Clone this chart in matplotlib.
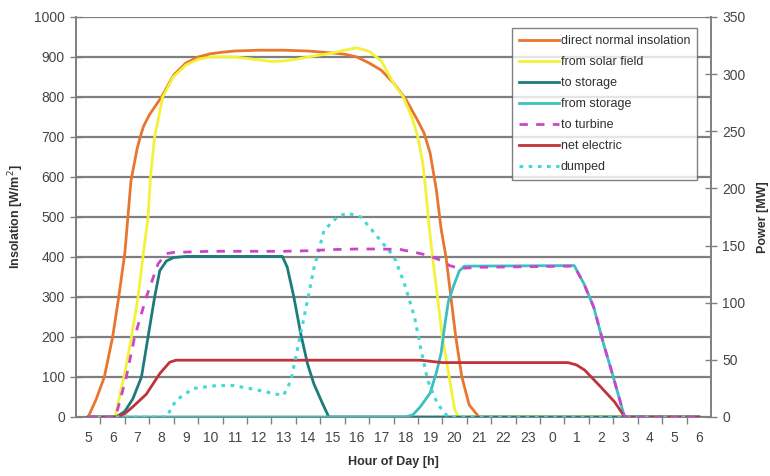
import matplotlib
matplotlib.use("Agg")
import matplotlib.pyplot as plt
from matplotlib.ticker import FixedLocator, FuncFormatter

# ---------------- data ----------------
hour_ticks = list(range(5, 31))
hour_labels = [str(h % 24) for h in hour_ticks]

# direct normal insolation [W/m2]
dni_h = [5, 5.33, 5.66, 6, 6.25, 6.5, 6.75, 7, 7.13, 7.26, 7.5, 8, 8.5, 9, 9.5, 10, 10.5, 11, 12, 13, 14,
         15, 15.5, 16, 16.5, 17, 17.5, 18, 18.5, 18.75, 19, 19.25, 19.45, 19.65, 19.85, 20.05, 20.3, 20.6, 21, 30]
dni_v = [0, 45, 100, 200, 300, 410, 590, 670, 700, 726, 755, 800, 855, 885, 900, 908, 912, 915, 917, 917, 915,
         910, 907, 900, 885, 867, 835, 795, 740, 710, 660, 570, 470, 400, 300, 200, 100, 30, 0, 0]

# from solar field [MW]
field_h = [5, 6.1, 6.5, 6.77, 7.04, 7.24, 7.45, 7.55, 7.72, 8.05, 8.48, 9, 9.5, 10, 11, 12, 12.5, 13, 13.5, 14,
           15, 15.5, 16, 16.5, 17, 17.5, 17.9, 18.25, 18.5, 18.7, 18.85, 18.95, 19.1, 19.3, 19.5, 19.78, 20.0, 20.15, 30]
field_v = [0, 0, 38.5, 70, 105, 140, 175, 210, 245, 280, 297.5, 308, 313, 315, 315, 312.5, 311, 311.5, 313, 315,
           318.5, 321, 323, 320, 311.5, 292, 280, 262.5, 245, 222, 192.5, 168, 140, 105, 70, 35, 7, 0, 0]

# to storage [MW]
to_st_h = [5, 6.15, 6.5, 6.83, 7.18, 7.45, 7.72, 7.93, 8.2, 8.5, 9, 12.95, 13.15, 13.42, 13.7, 13.98, 14.24,
           14.6, 14.85, 30]
to_st_v = [0, 0, 5, 16, 35, 70, 105, 128, 136.5, 139.5, 140.5, 140.5, 131, 105, 73, 46.5, 29, 11.5, 0, 0]

# from storage [MW]
from_st_h = [5, 18.0, 18.3, 18.6, 19.0, 19.25, 19.45, 19.6, 19.75, 20.0, 20.2, 20.4, 24.9, 25.3, 25.7, 26.1,
             26.5, 26.96, 30]
from_st_v = [0, 0, 2, 9, 21, 38.5, 56, 80.5, 101.5, 117, 128, 132, 132.5, 116.5, 96, 64, 35, 0, 0]

# to turbine [MW]
turb_h = [5, 6.12, 6.56, 6.9, 7.38, 7.86, 8.2, 8.5, 10, 13, 14, 15, 16, 17, 17.8, 18.5, 18.9, 19.45, 19.8,
          20.2, 21, 24.9, 25.3, 25.7, 26.1, 26.5, 26.96, 30]
turb_v = [0, 0, 35, 70, 105, 134, 143, 144, 145, 145, 145.5, 146.5, 147, 147, 146.5, 143.5, 141.5, 137, 132.5,
          130, 131, 132, 116.5, 96, 64, 35, 0, 0]

# net electric [MW]
net_h = [5, 6.15, 6.5, 6.83, 7.38, 7.93, 8.34, 8.6, 18.6, 19.5, 24.65, 25.0, 25.33, 26.0, 26.56, 26.97, 30]
net_v = [0, 0, 3, 9, 20, 38, 48, 49.7, 49.7, 47.6, 47.6, 45.5, 41, 26, 13, 0, 0]

# dumped [MW]
dump_h = [5, 8.2, 8.6, 9.3, 10.25, 10.94, 11.6, 12.3, 12.6, 13.0, 13.3, 13.56, 13.84, 14.25, 14.66, 15.2,
          15.6, 16.17, 16.85, 17.53, 17.95, 18.36, 18.63, 18.9, 19.3, 19.73, 30]
dump_v = [0, 0, 14.7, 25, 27.5, 27.5, 25, 22, 20.3, 19, 32, 58.5, 87.5, 131, 163.5, 175,
          178.5, 175, 157.5, 140, 116.5, 87.5, 58.5, 32, 11.5, 0, 0]

# ---------------- figure ----------------
plt.rcParams['font.family'] = ['Liberation Sans', 'DejaVu Sans']
fig = plt.figure(figsize=(7.7, 4.76), dpi=100)
fig.subplots_adjust(left=76 / 770, right=711 / 770, bottom=1 - 417 / 476, top=1 - 17 / 476)
ax = fig.add_subplot(111)
ax2 = ax.twinx()

grid_c = '#7f7f7f'
axis_c = '#808080'
text_c = '#454545'

ax.set_xlim(4.5, 30.5)
ax.set_ylim(0, 1000)
ax2.set_ylim(0, 350)

ax.set_yticks(range(0, 1001, 100))
ax2.set_yticks(range(0, 351, 50))
ax.yaxis.grid(True, color=grid_c, linewidth=1.6)
ax.set_axisbelow(True)

ax.xaxis.set_major_locator(FixedLocator(hour_ticks))
ax.xaxis.set_major_formatter(FuncFormatter(lambda v, p: hour_labels[hour_ticks.index(int(round(v)))]))
ax.xaxis.set_minor_locator(FixedLocator([h + 0.5 for h in hour_ticks[:-1]]))
ax.tick_params(axis='x', which='major', length=0, pad=10, labelsize=10, colors=text_c)
ax.tick_params(axis='x', which='minor', length=5, direction='out', color=axis_c, width=1)
ax.tick_params(axis='y', length=8, direction='inout', color=axis_c, width=1, labelsize=10,
               colors=text_c, pad=4)
ax2.tick_params(axis='y', length=8, direction='inout', color=axis_c, width=1, labelsize=10,
                colors=text_c, pad=4)

for a in (ax, ax2):
    for s in ('left', 'right', 'bottom'):
        a.spines[s].set_color(axis_c)
        a.spines[s].set_linewidth(1.2)
    a.spines['top'].set_visible(False)

ax.set_xlabel('Hour of Day [h]', fontsize=9, fontweight='bold', color='#303030', labelpad=8)
ax.set_ylabel('Insolation [W/m$^2$]', fontsize=9, fontweight='bold', color='#303030', labelpad=6)
ax2.set_ylabel('Power [MW]', fontsize=9, fontweight='bold', color='#303030', labelpad=8)

h1, = ax.plot(dni_h, dni_v, color='#E8762F', lw=2, label='direct normal insolation', zorder=3)
h2, = ax2.plot(field_h, field_v, color='#F2F23A', lw=2, label='from solar field', zorder=3)
h3, = ax2.plot(to_st_h, to_st_v, color='#1E7B7B', lw=2, label='to storage', zorder=4)
h4, = ax2.plot(from_st_h, from_st_v, color='#3CBFC0', lw=2, label='from storage', zorder=4)
h6, = ax2.plot(net_h, net_v, color='#C0333A', lw=2, label='net electric', zorder=5)
h7, = ax2.plot(dump_h, dump_v, color='#40D8D8', lw=2.2, ls=(0, (1.2, 1.8)), label='dumped', zorder=5)
h5, = ax2.plot(turb_h, turb_v, color='#CC44CC', lw=2, ls=(0, (3, 3)), label='to turbine', zorder=6)

leg = ax2.legend(handles=[h1, h2, h3, h4, h5, h6, h7], loc='upper right',
                 bbox_to_anchor=((697 - 76) / 635, (417 - 28) / 400), fontsize=9,
                 frameon=True, fancybox=False, handlelength=3.2, handletextpad=0.15,
                 labelspacing=0.72, borderpad=0.55, borderaxespad=0.0)
leg.get_frame().set_edgecolor('#606060')
leg.get_frame().set_linewidth(1.0)
for t in leg.get_texts():
    t.set_color('#303030')

fig.savefig('out.png', dpi=100)
